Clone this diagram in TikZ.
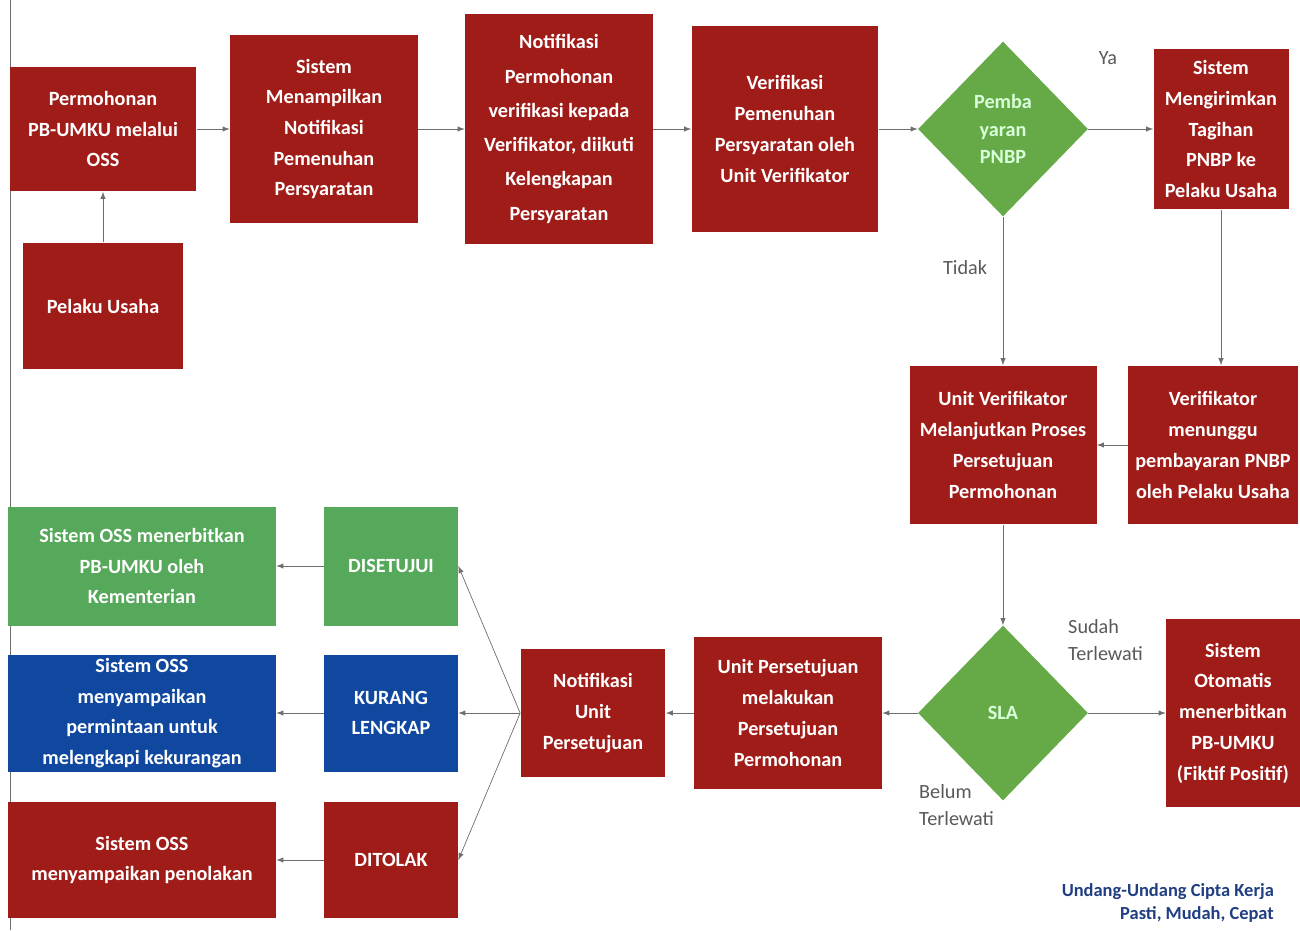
\documentclass[tikz,border=0pt]{standalone}
\usepackage{fontspec}
\setmainfont{Carlito}
\usetikzlibrary{arrows,shapes.geometric}
\usepackage{xcolor}

\definecolor{boxred}{RGB}{160,28,24}
\definecolor{boxgreen}{RGB}{86,168,90}
\definecolor{dgreen}{RGB}{102,170,72}
\definecolor{boxblue}{RGB}{16,72,160}
\definecolor{linegray}{RGB}{110,110,110}
\definecolor{footblue}{RGB}{32,62,130}

\tikzset{
  box/.style={rectangle, fill=#1, text=white, align=center, inner sep=1pt,
    font=\bfseries\fontsize{11.5}{17.5}\selectfont},
  decision/.style={diamond, fill=dgreen, text=green!15!white, align=center, inner sep=0pt,
    minimum width=3.4cm, minimum height=3.5cm, font=\bfseries\fontsize{11.5}{15.5}\selectfont},
  lbl/.style={text=black!65, align=left, font=\fontsize{11.5}{15}\selectfont},
  conn/.style={draw=linegray, -latex, thin}
}

\begin{document}
\begin{tikzpicture}[x=0.02cm,y=-0.02cm]
\useasboundingbox (0,0) rectangle (1300,930);
\draw[linegray] (10,0) -- (10,930);

% baris atas
\node[box=boxred, minimum width=3.74cm, minimum height=2.5cm] (perm) at (103,129) {Permohonan\\PB-UMKU melalui\\OSS};
\node[box=boxred, minimum width=3.22cm, minimum height=2.54cm] (pelaku) at (103,306) {Pelaku Usaha};
\node[box=boxred, minimum width=3.76cm, minimum height=3.78cm] (menampil) at (324,129) {Sistem\\Menampilkan\\Notifikasi\\Pemenuhan\\Persyaratan};
\node[box=boxred, minimum width=3.76cm, minimum height=4.6cm, font=\bfseries\fontsize{11.5}{19.5}\selectfont] (notifperm) at (559,129) {Notifikasi\\Permohonan\\verifikasi kepada\\Verifikator, diikuti\\Kelengkapan\\Persyaratan};
\node[box=boxred, minimum width=3.74cm, minimum height=4.12cm] (verif) at (785,129) {Verifikasi\\Pemenuhan\\Persyaratan oleh\\Unit Verifikator};
\node[decision] (bayar) at (1003,129) {Pemba\\yaran\\PNBP};
\node[box=boxred, minimum width=2.7cm, minimum height=3.22cm] (tagihan) at (1221,129) {Sistem\\Mengirimkan\\Tagihan\\PNBP ke\\Pelaku Usaha};

% baris tengah
\node[box=boxred, minimum width=3.74cm, minimum height=3.18cm] (lanjut) at (1003,445) {Unit Verifikator\\Melanjutkan Proses\\Persetujuan\\Permohonan};
\node[box=boxred, minimum width=3.4cm, minimum height=3.18cm] (tunggu) at (1213,445) {Verifikator\\menunggu\\pembayaran PNBP\\oleh Pelaku Usaha};

% baris bawah
\node[decision] (sla) at (1003,713) {SLA};
\node[box=boxred, minimum width=2.68cm, minimum height=3.78cm] (fiktif) at (1233,713) {Sistem\\Otomatis\\menerbitkan\\PB-UMKU\\(Fiktif Positif)};
\node[box=boxred, minimum width=3.76cm, minimum height=3.04cm] (setuju) at (788,713) {Unit Persetujuan\\melakukan\\Persetujuan\\Permohonan};
\node[box=boxred, minimum width=2.9cm, minimum height=2.56cm] (notifunit) at (593,713) {Notifikasi\\Unit\\Persetujuan};

\node[box=boxgreen, minimum width=2.68cm, minimum height=2.38cm] (disetujui) at (391,566) {DISETUJUI};
\node[box=boxblue, minimum width=2.68cm, minimum height=2.34cm] (kurang) at (391,713) {KURANG\\LENGKAP};
\node[box=boxred, minimum width=2.68cm, minimum height=2.32cm] (ditolak) at (391,860) {DITOLAK};

\node[box=boxgreen, minimum width=5.36cm, minimum height=2.38cm] (terbit) at (142,566) {Sistem OSS menerbitkan\\PB-UMKU oleh\\Kementerian};
\node[box=boxblue, minimum width=5.36cm, minimum height=2.34cm] (lengkapi) at (142,713) {Sistem OSS\\menyampaikan\\permintaan untuk\\melengkapi kekurangan};
\node[box=boxred, minimum width=5.36cm, minimum height=2.32cm] (tolak) at (142,860) {Sistem OSS\\menyampaikan penolakan};

% label
\node[lbl] (ya) at (1108,58) {Ya};
\node[lbl] (tidak) at (965,268) {Tidak};
\node[lbl, anchor=west] (sudah) at (1062,640) {Sudah\\Terlewati};
\node[lbl, anchor=west] (belum) at (913,805) {Belum\\Terlewati};

\node[anchor=east, text=footblue, font=\bfseries\fontsize{10.5}{13}\selectfont, align=right] (uu) at (1280,903) {Undang-Undang Cipta Kerja\\Pasti, Mudah, Cepat};

% panah
\draw[conn] (pelaku) -- (perm);
\draw[conn] (perm) -- (menampil);
\draw[conn] (menampil) -- (notifperm);
\draw[conn] (notifperm) -- (verif);
\draw[conn] (verif) -- (bayar);
\draw[conn] (bayar) -- (tagihan);
\draw[conn] (bayar) -- (lanjut);
\draw[conn] (tagihan.south) -- (tagihan.south |- tunggu.north);
\draw[conn] (tunggu) -- (lanjut);
\draw[conn] (lanjut) -- (sla);
\draw[conn] (sla) -- (fiktif);
\draw[conn] (sla) -- (setuju);
\draw[conn] (setuju) -- (notifunit);
\draw[conn] (notifunit.west) -- (disetujui.east);
\draw[conn] (notifunit.west) -- (kurang.east);
\draw[conn] (notifunit.west) -- (ditolak.east);
\draw[conn] (disetujui) -- (terbit);
\draw[conn] (kurang) -- (lengkapi);
\draw[conn] (ditolak) -- (tolak);
\end{tikzpicture}
\end{document}
